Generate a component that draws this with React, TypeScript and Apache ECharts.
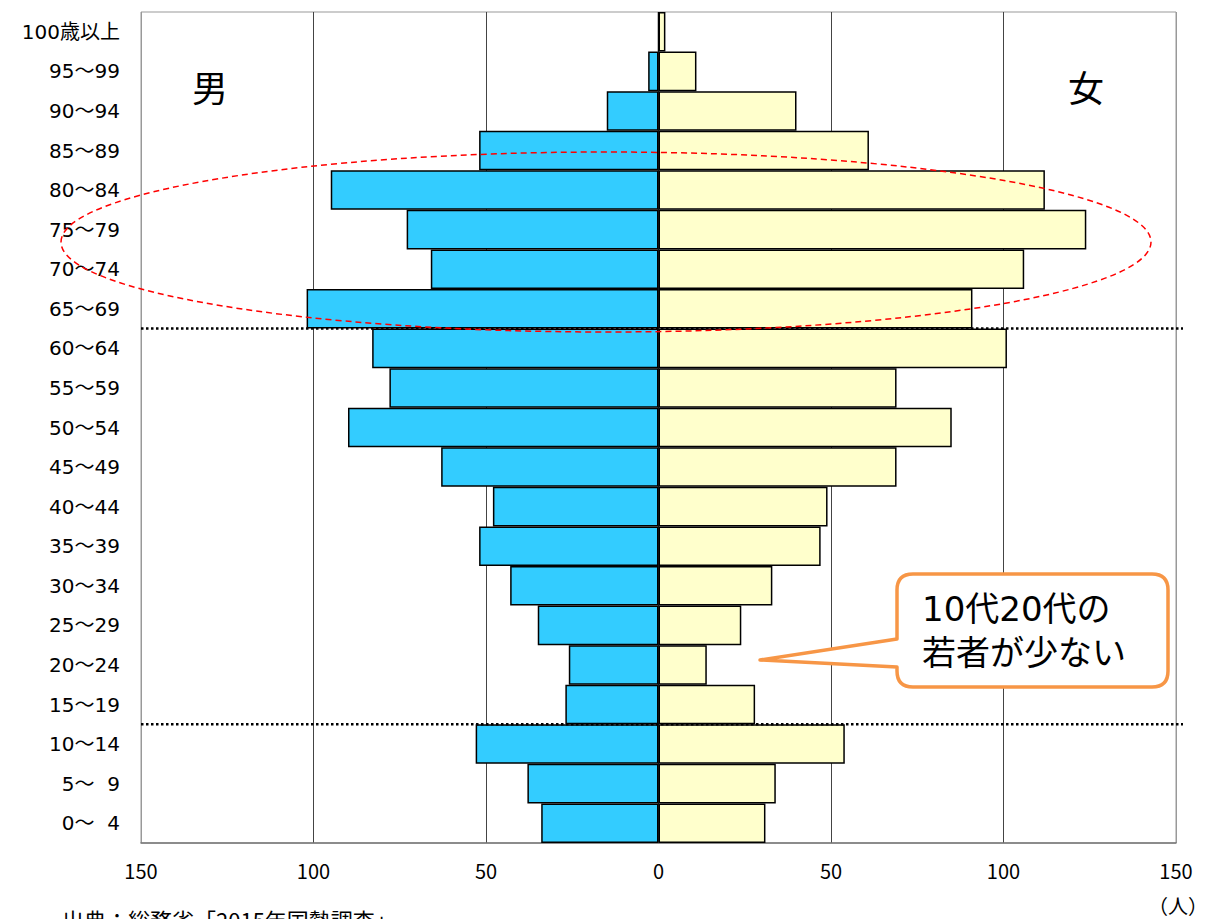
import React, { useEffect, useRef } from "react";
import * as echarts from "echarts";

// Age groups, top to bottom
const ageGroups = [
  "100歳以上", "95～99", "90～94", "85～89", "80～84", "75～79", "70～74",
  "65～69", "60～64", "55～59", "50～54", "45～49", "40～44", "35～39",
  "30～34", "25～29", "20～24", "15～19", "10～14", "5～\u20079", "0～\u20074",
];

// Population (persons) per age group
const male = [0, 3, 15, 52, 95, 73, 66, 102, 83, 78, 90, 63, 48, 52, 43, 35, 26, 27, 53, 38, 34];
const female = [2, 11, 40, 61, 112, 124, 106, 91, 101, 69, 85, 69, 49, 47, 33, 24, 14, 28, 54, 34, 31];

const xMin = -150;
const xMax = 150;
const xStep = 50;

const FONT = '"Noto Sans CJK JP", "Noto Sans", sans-serif';
const FONT_WIDE = '"DejaVu Sans", "Noto Sans CJK JP", sans-serif';

// Plot area geometry
const GRID_LEFT = 141;
const GRID_TOP = 12;
const GRID_W = 1035;
const GRID_H = 831;

// Speech-bubble outline with a tail pointing left
const CALLOUT_D =
  "M913,574 L1152,574 Q1168,574 1168,590 L1168,671 Q1168,687 1152,687 L913,687 " +
  "Q897,687 897,671 L897,667 L760,660 L897,639 L897,590 Q897,574 913,574 Z";

let calloutRegistered = false;
function ensureCallout() {
  if (calloutRegistered) return;
  echarts.graphic.registerShape("callout", echarts.graphic.extendPath(CALLOUT_D, {}) as any);
  calloutRegistered = true;
}

export default function App() {
  const ref = useRef<HTMLDivElement>(null);

  useEffect(() => {
    if (!ref.current) return;
    ensureCallout();
    const chart = echarts.init(ref.current, null, { renderer: "svg" });

    const band = GRID_H / ageGroups.length;
    // boundary between 65～69 and 60～64, and between 15～19 and 10～14
    const idx65 = ageGroups.indexOf("65～69");
    const idx15 = ageGroups.indexOf("15～19");
    const yOld = GRID_TOP + band * (idx65 + 1);
    const yYoung = GRID_TOP + band * (idx15 + 1);

    const dotted = {
      stroke: "#000",
      lineWidth: 2.5,
      lineDash: [2.5, 2.5],
    };

    const option: any = {
      animation: false,
      backgroundColor: "#fff",
      grid: {
        left: GRID_LEFT,
        top: GRID_TOP,
        width: GRID_W,
        height: GRID_H,
        show: true,
        borderColor: "#999",
        borderWidth: 1,
        outerBoundsMode: "none",
      },
      xAxis: {
        type: "value",
        min: xMin,
        max: xMax,
        interval: xStep,
        axisLine: { show: true, lineStyle: { color: "#777", width: 1.5 } },
        axisTick: { show: false },
        axisLabel: {
          color: "#000",
          fontSize: 20,
          fontFamily: FONT,
          margin: 17,
          formatter: (v: number) => String(Math.abs(v)),
        },
        splitLine: {
          show: true,
          lineStyle: {
            color: ["#999", "#444", "#444", "#444", "#444", "#444", "#999"],
            width: 1,
          },
        },
      },
      yAxis: {
        type: "category",
        data: ageGroups,
        inverse: true,
        axisLine: { show: false },
        axisTick: { show: false },
        axisLabel: {
          color: "#000",
          fontSize: 20,
          fontFamily: FONT_WIDE,
          margin: 21,
        },
        splitLine: { show: false },
      },
      series: [
        {
          name: "男",
          type: "bar",
          data: male.map((v) => -v),
          barWidth: "100%",
          barGap: "-100%",
          barCategoryGap: "0%",
          itemStyle: { color: "#33CCFF", borderColor: "#000", borderWidth: 1.5 },
        },
        {
          name: "女",
          type: "bar",
          data: female,
          barWidth: "100%",
          barGap: "-100%",
          barCategoryGap: "0%",
          itemStyle: { color: "#FFFFCC", borderColor: "#000", borderWidth: 1.5 },
        },
      ],
      graphic: [
        {
          type: "line",
          z: 100,
          shape: { x1: GRID_LEFT, y1: yOld, x2: 1183, y2: yOld },
          style: dotted,
        },
        {
          type: "line",
          z: 100,
          shape: { x1: GRID_LEFT, y1: yYoung, x2: 1183, y2: yYoung },
          style: dotted,
        },
        {
          type: "ellipse",
          z: 101,
          shape: { cx: 606, cy: 242, rx: 545, ry: 90 },
          style: { fill: "none", stroke: "#FF0000", lineWidth: 1.5, lineDash: [6, 4] },
        },
        {
          type: "callout",
          z: 102,
          style: { fill: "#fff", stroke: "#F79646", lineWidth: 3.5, lineJoin: "round" },
        },
        {
          type: "text",
          z: 103,
          x: 922,
          y: 631,
          style: {
            text: "10代20代の\n若者が少ない",
            fill: "#000",
            fontSize: 34,
            fontFamily: FONT_WIDE,
            lineHeight: 44,
            align: "left",
            verticalAlign: "middle",
            textAlign: "left",
            textVerticalAlign: "middle",
          },
        },
        {
          type: "text",
          z: 103,
          x: 210,
          y: 86,
          style: {
            text: "男",
            fill: "#000",
            fontSize: 36,
            fontFamily: FONT,
            align: "center",
            verticalAlign: "middle",
            textAlign: "center",
            textVerticalAlign: "middle",
          },
        },
        {
          type: "text",
          z: 103,
          x: 1086,
          y: 86,
          style: {
            text: "女",
            fill: "#000",
            fontSize: 36,
            fontFamily: FONT,
            align: "center",
            verticalAlign: "middle",
            textAlign: "center",
            textVerticalAlign: "middle",
          },
        },
        {
          type: "text",
          z: 103,
          x: 1208,
          y: 905,
          style: {
            text: "（人）",
            fill: "#000",
            fontSize: 20,
            fontFamily: FONT,
            align: "right",
            verticalAlign: "middle",
            textAlign: "right",
            textVerticalAlign: "middle",
          },
        },
        {
          type: "text",
          z: 103,
          x: 62,
          y: 908,
          style: {
            text: "出典：総務省「2015年国勢調査」",
            fill: "#000",
            fontSize: 22,
            fontFamily: FONT,
            align: "left",
            verticalAlign: "top",
            textAlign: "left",
            textVerticalAlign: "top",
          },
        },
      ],
    };

    chart.setOption(option);
    return () => chart.dispose();
  }, []);

  return (
    <div
      ref={ref}
      style={{ position: "absolute", left: 0, top: 0, width: 1211, height: 919 }}
    />
  );
}
